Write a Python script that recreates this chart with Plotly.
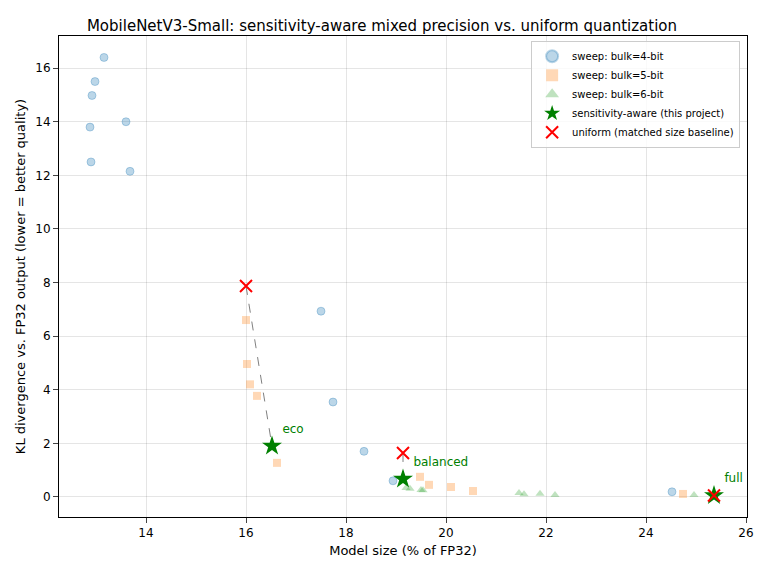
import plotly.graph_objects as go

b4_x = [13.16, 12.98, 12.92, 12.88, 13.6, 12.9, 13.68, 17.5, 17.74, 18.36, 18.94, 24.52]
b4_y = [16.4, 15.5, 14.98, 13.8, 14.0, 12.5, 12.15, 6.93, 3.54, 1.7, 0.6, 0.19]
b5_x = [16.0, 16.02, 16.08, 16.22, 16.62, 19.48, 19.66, 20.1, 20.54, 24.74]
b5_y = [6.6, 4.96, 4.2, 3.77, 1.27, 0.75, 0.45, 0.37, 0.22, 0.11]
b6_x = [19.2, 19.28, 19.5, 19.54, 21.46, 21.56, 21.88, 22.18, 24.96]
b6_y = [0.33, 0.3, 0.26, 0.25, 0.15, 0.1, 0.12, 0.07, 0.07]
sa_x = [16.52, 19.14, 25.36]
sa_y = [1.9, 0.67, 0.05]
sa_labels = ["eco", "balanced", "full"]
un_x = [16.0, 19.14, 25.36]
un_y = [7.87, 1.64, 0.05]

fig = go.Figure()
for i in range(3):
    fig.add_trace(go.Scatter(x=[un_x[i], sa_x[i]], y=[un_y[i], sa_y[i]], mode="lines",
                             line=dict(color="gray", dash="dash", width=1), showlegend=False))
fig.add_trace(go.Scatter(x=b4_x, y=b4_y, mode="markers", name="sweep: bulk=4-bit",
                         marker=dict(symbol="circle", size=8, color="rgba(31,119,180,0.3)",
                                     line=dict(width=1, color="rgba(31,119,180,0.3)"))))
fig.add_trace(go.Scatter(x=b5_x, y=b5_y, mode="markers", name="sweep: bulk=5-bit",
                         marker=dict(symbol="square", size=8, color="rgba(255,127,14,0.3)")))
fig.add_trace(go.Scatter(x=b6_x, y=b6_y, mode="markers", name="sweep: bulk=6-bit",
                         marker=dict(symbol="triangle-up", size=8, color="rgba(44,160,44,0.3)")))
fig.add_trace(go.Scatter(x=sa_x, y=sa_y, mode="markers+text", name="sensitivity-aware (this project)",
                         text=sa_labels, textposition="top right", textfont=dict(color="green", size=12),
                         marker=dict(symbol="star", size=15, color="green")))
fig.add_trace(go.Scatter(x=un_x, y=un_y, mode="markers", name="uniform (matched size baseline)",
                         marker=dict(symbol="x-thin", size=12, line=dict(width=2, color="red"), color="red")))

ax = dict(showline=True, linecolor="black", mirror=True, ticks="outside", showgrid=True,
          gridcolor="rgba(0,0,0,0.1)", zeroline=False, tickfont=dict(size=12), automargin=False)
fig.update_layout(
    width=748, height=557, plot_bgcolor="white", paper_bgcolor="white",
    font=dict(family="DejaVu Sans", color="black"),
    margin=dict(l=51, r=9, t=28, b=48),
    title=dict(text="MobileNetV3-Small: sensitivity-aware mixed precision vs. uniform quantization",
               x=0.5, xanchor="center", y=0.977, font=dict(size=15)),
    xaxis=dict(ax, range=[12.26, 26.02], dtick=2, title=dict(text="Model size (% of FP32)", font=dict(size=13), standoff=6)),
    yaxis=dict(ax, range=[-0.75, 17.2], dtick=2, title=dict(text="KL divergence vs. FP32 output (lower = better quality)", font=dict(size=13), standoff=6)),
    legend=dict(x=0.99, y=0.99, xanchor="right", yanchor="top", bordercolor="#ccc", borderwidth=1,
                font=dict(size=10), bgcolor="rgba(255,255,255,0.8)", tracegroupgap=0, itemsizing="constant"),
)
fig.write_html("out.html")
